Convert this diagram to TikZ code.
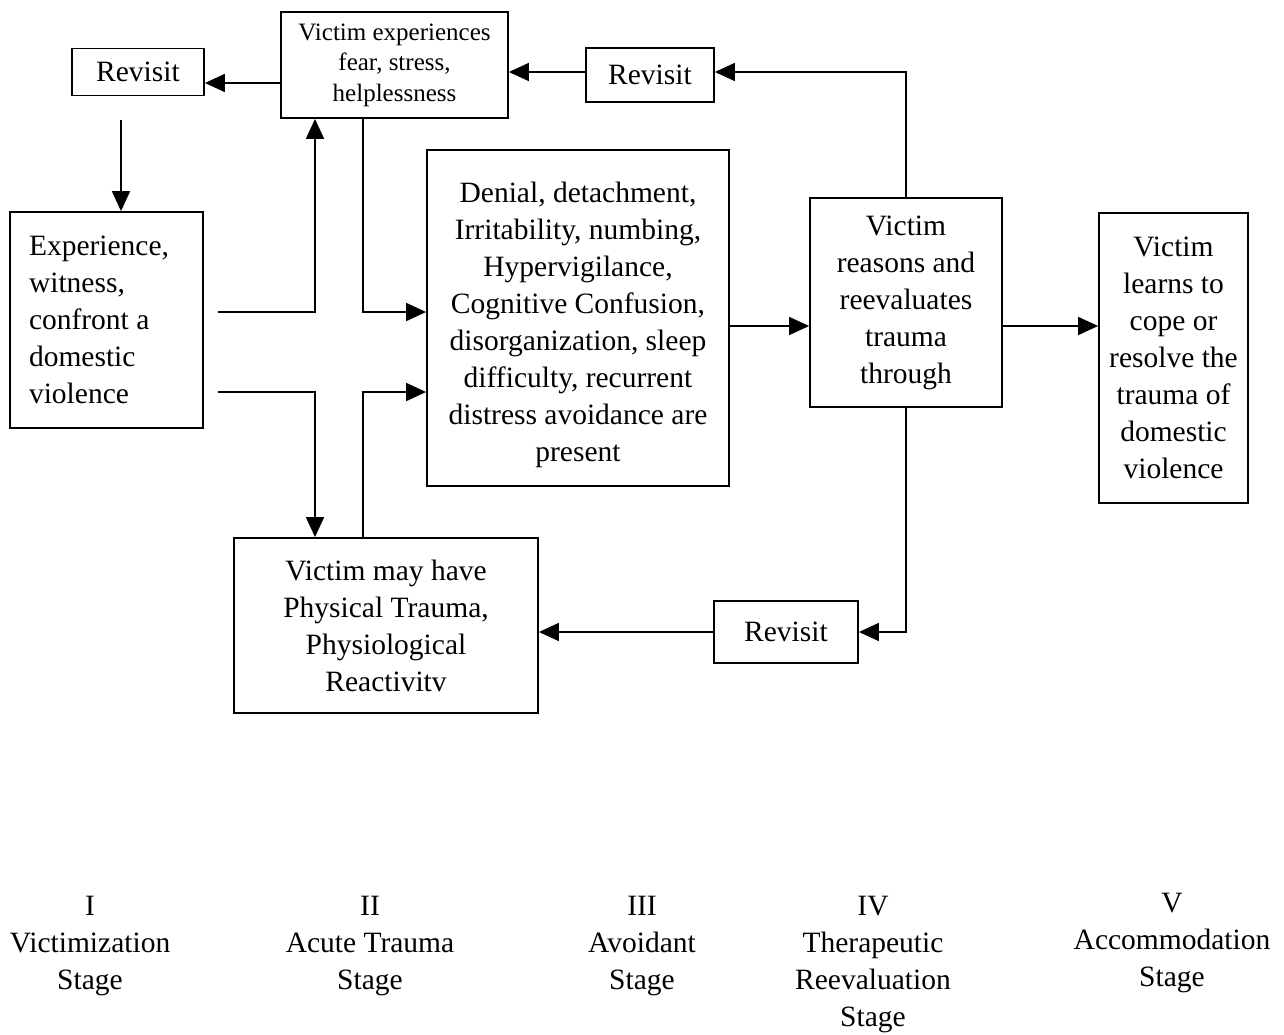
\documentclass[tikz,border=0pt]{standalone}
\usepackage{fontspec}
\setmainfont{Liberation Serif}
\usetikzlibrary{arrows.meta,positioning}

\begin{document}
\begin{tikzpicture}[
  x=1pt, y=-1pt,
  font=\fontsize{29.5pt}{37pt}\selectfont,
  bx/.style={rectangle, draw=black, line width=1.8pt, align=flush center,
    inner xsep=0pt, inner ysep=0pt},
  stg/.style={align=flush center, inner sep=0pt, anchor=north},
  ar/.style={-{Triangle[length=20pt,width=18pt]}, line width=1.8pt, draw=black}]
\useasboundingbox (0,0) rectangle (1284,1034);
% boxes
\node[bx, text width=132pt, minimum height=47pt] (rvl) at (138,72) {Revisit};
\node[bx, text width=227pt, minimum height=106pt,
  font=\fontsize{25pt}{30.5pt}\selectfont] (vexp) at (394.5,65)
  {Victim experiences\\fear, stress,\\helplessness};
\node[bx, text width=128pt, minimum height=54pt] (rvm) at (650,75) {Revisit};
\node[bx, align=flush left, inner xsep=19pt, text width=155pt, minimum height=216pt] (witn) at (106.5,320)
  {Experience,\\witness,\\confront a\\domestic\\violence};
\node[bx, text width=302pt, minimum height=336pt] (den) at (578,318)
  {\rule{0pt}{35pt}Denial, detachment,\\Irritability, numbing,\\Hypervigilance,\\Cognitive Confusion,\\disorganization, sleep\\difficulty, recurrent\\distress avoidance are\\present};
\node[bx, text width=192pt, minimum height=209pt] (reas) at (906,302.5)
  {Victim\\reasons and\\reevaluates\\trauma\\through};
\node[bx, text width=149pt, minimum height=290pt] (lrn) at (1173.5,358)
  {Victim\\learns to\\cope or\\resolve the\\trauma of\\domestic\\violence};
\node[bx, text width=304pt, minimum height=175pt] (phys) at (386,625.5)
  {Victim may have\\Physical Trauma,\\Physiological\\Reactivitv};
\node[bx, text width=144pt, minimum height=62pt] (rvb) at (786,632) {Revisit};
% stage labels
\node[stg] (s1) at (90,896) {I\\Victimization\\Stage};
\node[stg] (s2) at (370,896) {II\\Acute Trauma\\Stage};
\node[stg] (s3) at (642,896) {III\\Avoidant\\Stage};
\node[stg] (s4) at (873,896) {IV\\Therapeutic\\Reevaluation\\Stage};
\node[stg] (s5) at (1172,893) {V\\Accommodation\\Stage};
% free ends
\coordinate (rvd) at (121,120);
\coordinate (w1) at (218,312);
\coordinate (w2) at (218,392);
% connectors
\draw[ar] (vexp.west |- 0,83) -- (rvl.east |- 0,83);
\draw[ar] (rvd) -- (rvd |- witn.north);
\draw[ar] (w1) -| (vexp.south -| 315,0);
\draw[ar] (w2) -| (phys.north -| 315,0);
\draw[ar] (vexp.south -| 363,0) |- (den.west |- 0,312);
\draw[ar] (phys.north -| 363,0) |- (den.west |- 0,392);
\draw[ar] (den.east |- 0,326) -- (reas.west |- 0,326);
\draw[ar] (reas.east |- 0,326) -- (lrn.west |- 0,326);
\draw[ar] (reas.north) |- (rvm.east |- 0,72);
\draw[ar] (rvm.west |- 0,72) -- (vexp.east |- 0,72);
\draw[ar] (reas.south) |- (rvb.east);
\draw[ar] (rvb.west) -- (phys.east |- rvb.west);
\end{tikzpicture}
\end{document}
